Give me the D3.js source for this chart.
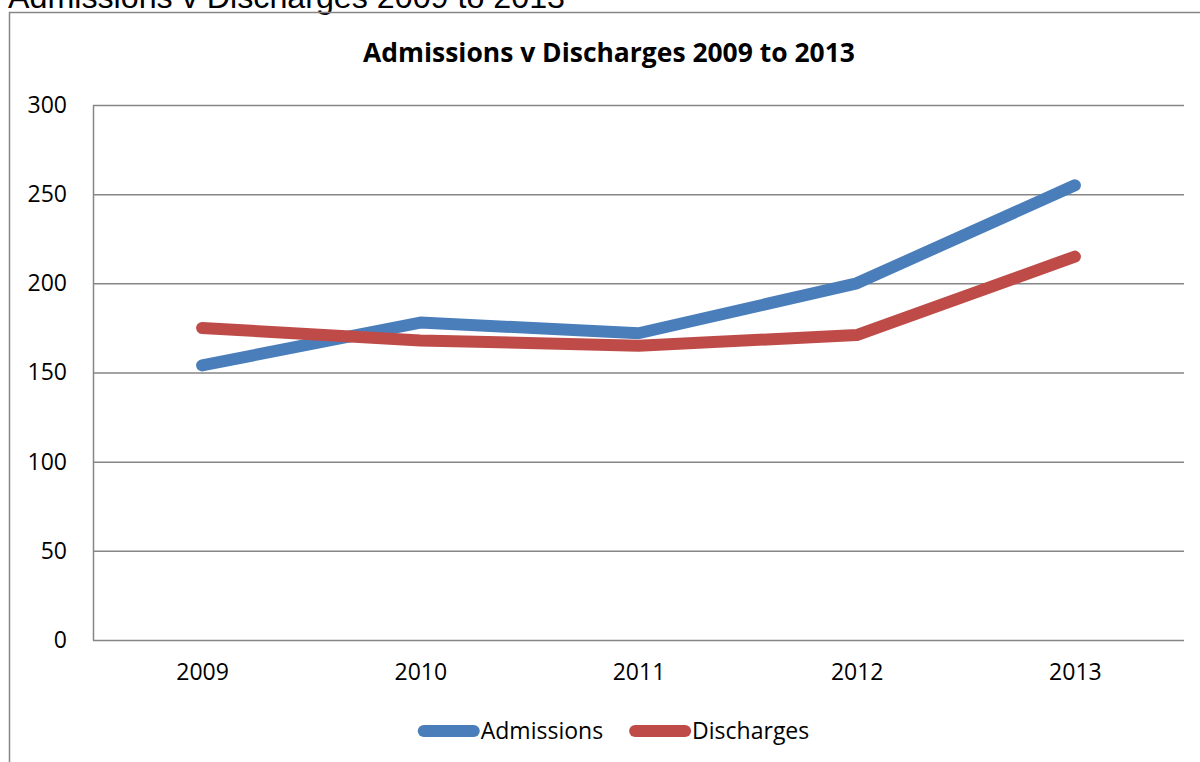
<!DOCTYPE html>
<html>
<head>
<meta charset="utf-8">
<script src="https://cdn.jsdelivr.net/npm/d3@7"></script>
<style>
  body { margin: 0; background: #fff; }
  svg { display: block; font-family: "Open Sans", sans-serif; }
</style>
</head>
<body>
<div id="chart"></div>
<script>
// data
var years = ['2009', '2010', '2011', '2012', '2013']
var admissions = [154, 178, 172, 200, 255]
var discharges = [175, 168, 165, 171, 215]
var yTicks = [0, 50, 100, 150, 200, 250, 300]
var seriesNames = ['Admissions', 'Discharges']
var seriesColors = ['#4a7ebb', '#be4b48']

var width = 1200
var height = 762
var plot = { left: 93, right: 1184, top: 105, bottom: 640 }

var svg = d3.select('#chart')
  .append('svg')
  .attr('width', width)
  .attr('height', height)

// scale text so it fills a given width
function fitText(sel, target) {
  var w = sel.node().getComputedTextLength()
  var fs = parseFloat(sel.attr('font-size'))
  sel.attr('font-size', fs * target / w)
}

// heading cut off at the top of the page (as in the reference)
var heading = svg.append('text')
  .attr('x', 8)
  .attr('y', 8)
  .attr('font-family', '"Liberation Sans", Arial, sans-serif')
  .attr('font-size', 26)
  .attr('fill', '#000')
  .text('Admissions v Discharges 2009 to 2013')
fitText(heading, 557)

// chart frame
svg.append('path')
  .attr('d', 'M9.5,' + height + 'V12.5H' + width)
  .attr('fill', 'none')
  .attr('stroke', '#868686')
  .attr('stroke-width', 1.5)

var x = d3.scalePoint()
  .domain(years)
  .range([plot.left, plot.right])
  .padding(0.5)

var y = d3.scaleLinear()
  .domain([0, 300])
  .range([plot.bottom, plot.top])

// gridlines + y labels
var yAxis = d3.axisLeft(y)
  .tickValues(yTicks)
  .tickSizeInner(-(plot.right - plot.left))
  .tickSizeOuter(0)
  .tickPadding(26)

var gy = svg.append('g')
  .attr('transform', 'translate(' + plot.left + ',0)')
  .call(yAxis)
gy.select('.domain').attr('stroke', '#868686').attr('stroke-width', 1.5)
gy.selectAll('.tick line').attr('stroke', '#868686').attr('stroke-width', 1.5)
gy.selectAll('.tick text')
  .attr('font-size', 23)
  .attr('font-family', '"Open Sans", sans-serif')
  .attr('fill', '#000')

// x labels
var xAxis = d3.axisBottom(x).tickSize(0).tickPadding(24)
var gx = svg.append('g')
  .attr('transform', 'translate(0,' + plot.bottom + ')')
  .call(xAxis)
gx.select('.domain').remove()
gx.selectAll('.tick text')
  .attr('font-size', 23)
  .attr('font-family', '"Open Sans", sans-serif')
  .attr('fill', '#000')

// title
var title = svg.append('text')
  .attr('x', 609)
  .attr('y', 62)
  .attr('text-anchor', 'middle')
  .attr('font-size', 26)
  .attr('font-weight', 'bold')
  .attr('fill', '#000')
  .text('Admissions v Discharges 2009 to 2013')
fitText(title, 492)

// lines
var line = d3.line()
  .x(function(d, i) { return x(years[i]) })
  .y(function(d) { return y(d) })

var allSeries = [admissions, discharges]
svg.append('g')
  .selectAll('path')
  .data(allSeries)
  .enter()
  .append('path')
  .attr('d', line)
  .attr('fill', 'none')
  .attr('stroke', function(d, i) { return seriesColors[i] })
  .attr('stroke-width', 12)
  .attr('stroke-linecap', 'round')
  .attr('stroke-linejoin', 'round')

// legend
var legend = svg.append('g')
var lx = 0
seriesNames.forEach(function(name, i) {
  var item = legend.append('g').attr('transform', 'translate(' + lx + ',0)')
  item.append('line')
    .attr('x1', 5).attr('x2', 55)
    .attr('y1', 0).attr('y2', 0)
    .attr('stroke', seriesColors[i])
    .attr('stroke-width', 12)
    .attr('stroke-linecap', 'round')
  var t = item.append('text')
    .attr('x', 62)
    .attr('dy', '0.35em')
    .attr('font-size', 23)
    .attr('fill', '#000')
    .text(name)
  lx += 62 + t.node().getComputedTextLength() + 27
})
lx -= 27
legend.attr('transform', 'translate(' + (614 - lx / 2) + ',731)')
</script>
</body>
</html>
